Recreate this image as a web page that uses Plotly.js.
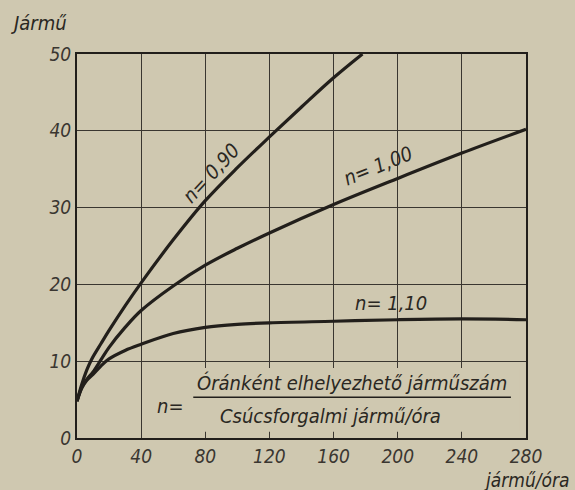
<!DOCTYPE html>
<html>
<head>
<meta charset="utf-8">
<script src="https://cdn.plot.ly/plotly-3.0.1.min.js"></script>
<style>
html,body{margin:0;padding:0;background:#cfc8b0;}
#chart{width:575px;height:490px;}
</style>
</head>
<body>
<div id="chart"></div>
<script>
// Data
const x090 = [0, 3, 6, 9, 15, 20, 30, 40, 60, 80, 100, 120, 140, 160, 178];
const y090 = [4.8, 7.0, 8.8, 10.2, 12.3, 14.0, 17.2, 20.2, 25.8, 30.9, 35.2, 39.2, 43.1, 46.9, 50];
const x100 = [0, 3, 6, 10, 15, 20, 30, 40, 60, 80, 100, 120, 160, 200, 240, 280];
const y100 = [4.8, 6.6, 7.6, 8.6, 10.2, 11.8, 14.4, 16.6, 19.8, 22.5, 24.7, 26.7, 30.4, 33.8, 37.1, 40.2];
const x110 = [0, 3, 6, 10, 15, 20, 30, 40, 60, 80, 100, 120, 160, 200, 240, 280];
const y110 = [4.8, 6.5, 7.5, 8.3, 9.4, 10.3, 11.4, 12.2, 13.6, 14.4, 14.8, 15.0, 15.2, 15.4, 15.5, 15.4];

const xTicks = [0, 40, 80, 120, 160, 200, 240, 280];
const yTicks = [0, 10, 20, 30, 40, 50];
const seriesNames = ['n= 0,90', 'n= 1,00', 'n= 1,10'];

const ink = '#221f1b';
const paper = '#cfc8b0';
const numFont = {family: 'DejaVu Sans Condensed, sans-serif', size: 19, color: '#3a3630', style: 'italic', weight: 'normal'};
const txtFont = {family: 'DejaVu Sans Condensed, DejaVu Sans, sans-serif', size: 20, color: '#2a2722', style: 'italic'};
const xTitleFont = {family: 'DejaVu Sans Condensed, DejaVu Sans, sans-serif', size: 19, color: '#2a2722', style: 'italic'};

const line = {color: ink, width: 3.2, shape: 'spline', smoothing: 1};
const traces = [
  {x: x090, y: y090, mode: 'lines', line: line, name: seriesNames[0], hoverinfo: 'skip'},
  {x: x100, y: y100, mode: 'lines', line: line, name: seriesNames[1], hoverinfo: 'skip'},
  {x: x110, y: y110, mode: 'lines', line: line, name: seriesNames[2], hoverinfo: 'skip'}
];

const layout = {
  width: 575, height: 490,
  margin: {l: 77, r: 49, t: 54, b: 52},
  paper_bgcolor: paper, plot_bgcolor: paper,
  showlegend: false,
  xaxis: {
    range: [0, 280], tickvals: xTicks, ticktext: xTicks.map(String),
    showgrid: true, gridcolor: '#3a3630', gridwidth: 1.2,
    showline: true, linecolor: ink, linewidth: 2, mirror: true,
    zeroline: false, ticks: '', tickfont: numFont, fixedrange: true
  },
  yaxis: {
    range: [0, 50], tickvals: yTicks, ticktext: yTicks.map(String),
    showgrid: true, gridcolor: '#3a3630', gridwidth: 1.2,
    showline: true, linecolor: ink, linewidth: 2, mirror: true,
    zeroline: false, ticks: '', tickfont: numFont, fixedrange: true
  },
  shapes: [
    {type: 'rect', xref: 'x', yref: 'y', x0: 44, x1: 276, y0: 0.8, y1: 9.1,
     fillcolor: paper, line: {width: 0}, layer: 'above'},
    {type: 'line', xref: 'x', yref: 'y', x0: 72.5, x1: 270.6, y0: 5.3, y1: 5.3,
     line: {color: ink, width: 1.5}, layer: 'above'}
  ],
  annotations: [
    {xref: 'paper', yref: 'paper', x: -0.085, y: 1.081, text: 'Jármű', showarrow: false, font: txtFont, xanchor: 'center', yanchor: 'middle'},
    {xref: 'paper', yref: 'paper', x: 1.1, y: -0.109, text: 'jármű/óra', showarrow: false, font: xTitleFont, xanchor: 'right', yanchor: 'middle'},
    {xref: 'x', yref: 'y', x: 83.7, y: 34.5, text: seriesNames[0], showarrow: false, font: txtFont, textangle: -47},
    {xref: 'x', yref: 'y', x: 187.5, y: 35.4, text: seriesNames[1], showarrow: false, font: txtFont, textangle: -22},
    {xref: 'x', yref: 'y', x: 196, y: 17.6, text: seriesNames[2], showarrow: false, font: txtFont},
    {xref: 'x', yref: 'y', x: 58, y: 4.2, text: 'n=', showarrow: false, font: txtFont},
    {xref: 'x', yref: 'y', x: 171.5, y: 7.2, text: 'Óránként elhelyezhető járműszám', showarrow: false, font: txtFont},
    {xref: 'x', yref: 'y', x: 158, y: 2.9, text: 'Csúcsforgalmi jármű/óra', showarrow: false, font: txtFont}
  ]
};

Plotly.newPlot('chart', traces, layout, {staticPlot: true, displayModeBar: false});
</script>
</body>
</html>
